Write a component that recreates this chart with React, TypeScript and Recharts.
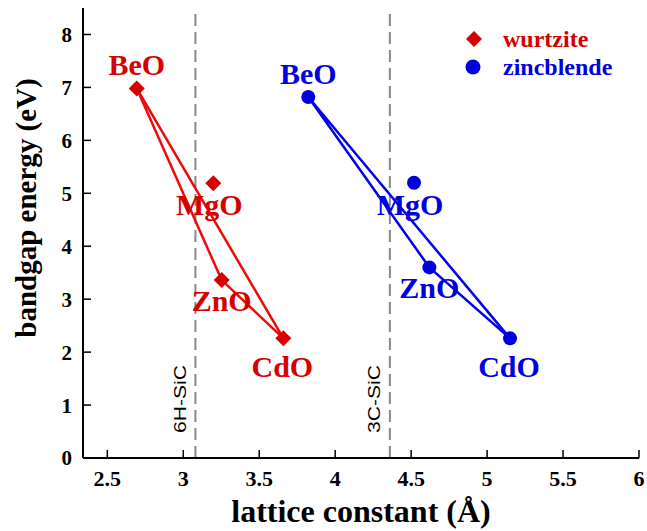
import React from 'react';
import { ScatterChart, Scatter, XAxis, YAxis, ReferenceLine, Legend } from 'recharts';

// ---- data ----
const compounds = ['BeO', 'MgO', 'ZnO', 'CdO'];
const wurtziteA = [2.694, 3.198, 3.253, 3.659];
const wurtziteGap = [6.98, 5.19, 3.36, 2.26];
const zincblendeA = [3.823, 4.519, 4.62, 5.151];
const zincblendeGap = [6.82, 5.2, 3.6, 2.26];
const bowingPath = ['BeO', 'ZnO', 'CdO', 'BeO'];
const xTicks = [2.5, 3, 3.5, 4, 4.5, 5, 5.5, 6];
const yTicks = [0, 1, 2, 3, 4, 5, 6, 7, 8];
const substrateNames = ['6H-SiC', '3C-SiC'];
const substrateA = [3.08, 4.36];
const seriesNames = ['wurtzite', 'zincblende'];

// ---- styles ----
const SERIF = '"Liberation Serif", "Times New Roman", serif';
const SANS = '"Liberation Sans", Arial, sans-serif';
const RED = '#d60000';
const RED_LINE = '#ee0a0a';
const BLUE = '#0000e0';
const BLUE_LINE = '#0000ee';
const LABEL_OFFSET: Record<string, [number, number]> = {
  BeO: [0, -13],
  MgO: [-4, 32],
  ZnO: [0, 31],
  CdO: [-1, 39],
};

const wurtzite = compounds.map((name, i) => ({ name, x: wurtziteA[i], y: wurtziteGap[i] }));
const zincblende = compounds.map((name, i) => ({ name, x: zincblendeA[i], y: zincblendeGap[i] }));
const wurtzitePath = bowingPath.map((n) => wurtzite[compounds.indexOf(n)]);
const zincblendePath = bowingPath.map((n) => zincblende[compounds.indexOf(n)]);

const makeShape = (kind: 'diamond' | 'circle', color: string) => (props: any) => {
  const { cx, cy, payload } = props;
  const [dx, dy] = LABEL_OFFSET[payload.name] || [0, 0];
  return (
    <g>
      {kind === 'diamond' ? (
        <polygon
          points={`${cx},${cy - 8} ${cx + 8},${cy} ${cx},${cy + 8} ${cx - 8},${cy}`}
          fill={color}
        />
      ) : (
        <circle cx={cx} cy={cy} r={7} fill={color} />
      )}
      <text
        x={cx + dx}
        y={cy + dy}
        textAnchor="middle"
        fontFamily={SERIF}
        fontWeight="bold"
        fontSize={30}
        fill={color}
      >
        {payload.name}
      </text>
    </g>
  );
};

const noShape = () => <g />;

const substrateLabel = (name: string) => (props: any) => {
  const vb = props.viewBox || {};
  const x = vb.x - 15;
  const y = vb.y + vb.height - 59;
  return (
    <text
      x={x}
      y={y}
      transform={`rotate(-90, ${x}, ${y})`}
      textAnchor="middle"
      dominantBaseline="central"
      fontFamily={SANS}
      fontSize={17}
      textLength={68}
      lengthAdjust="spacingAndGlyphs"
      fill="#000"
    >
      {name}
    </text>
  );
};

const xLabel = (props: any) => {
  const vb = props.viewBox || {};
  return (
    <text
      x={vb.x + vb.width / 2}
      y={vb.y + 64}
      textAnchor="middle"
      fontFamily={SERIF}
      fontWeight="bold"
      fontSize={32}
      fill="#000"
    >
      lattice constant (Å)
    </text>
  );
};

const yLabel = (props: any) => {
  const vb = props.viewBox || {};
  const x = vb.x + 26;
  const y = vb.y + vb.height / 2 - 25;
  return (
    <text
      x={x}
      y={y}
      transform={`rotate(-90, ${x}, ${y})`}
      textAnchor="middle"
      dominantBaseline="central"
      fontFamily={SERIF}
      fontWeight="bold"
      fontSize={29}
      fill="#000"
    >
      bandgap energy (eV)
    </text>
  );
};

const legendContent = () => (
  <svg width={180} height={64} style={{ display: 'block' }}>
    <polygon points="14,7 22,15 14,23 6,15" fill={RED} />
    <circle cx={13} cy={43} r={7.5} fill={BLUE} />
    <text x={43} y={23} fontFamily={SERIF} fontWeight="bold" fontSize={24} fill={RED}>
      {seriesNames[0]}
    </text>
    <text x={43} y={51} fontFamily={SERIF} fontWeight="bold" fontSize={24} fill={BLUE}>
      {seriesNames[1]}
    </text>
  </svg>
);

const tickStyle = { fill: '#000', fontSize: 22, fontWeight: 'bold', fontFamily: SERIF };
const axisLine = { stroke: '#000', strokeWidth: 2 };
const tickLine = { stroke: '#000', strokeWidth: 1.5 };

export default function App() {
  return (
    <div style={{ position: 'absolute', left: 0, top: 0, background: '#fff' }}>
      <ScatterChart width={647} height={531} margin={{ top: 8, right: 8, bottom: 0, left: 0 }}>
        <XAxis
          type="number"
          dataKey="x"
          domain={[2.34, 6]}
          allowDataOverflow
          ticks={xTicks}
          interval={0}
          height={73}
          tickSize={-8}
          tickMargin={20}
          tick={tickStyle}
          axisLine={axisLine}
          tickLine={tickLine}
          label={{ content: xLabel }}
        />
        <XAxis
          xAxisId="top"
          orientation="top"
          type="number"
          dataKey="x"
          domain={[2.34, 6]}
          allowDataOverflow
          ticks={xTicks}
          interval={0}
          height={0}
          tickSize={-8}
          tick={false}
          axisLine={axisLine}
          tickLine={tickLine}
        />
        <YAxis
          type="number"
          dataKey="y"
          domain={[0, 8.5]}
          allowDataOverflow
          ticks={yTicks}
          interval={0}
          width={83}
          tickSize={-8}
          tickMargin={19}
          tick={{ ...tickStyle, fontSize: 21 }}
          axisLine={axisLine}
          tickLine={tickLine}
          label={{ content: yLabel }}
        />
        <YAxis
          yAxisId="right"
          orientation="right"
          type="number"
          dataKey="y"
          domain={[0, 8.5]}
          allowDataOverflow
          ticks={yTicks}
          interval={0}
          width={0}
          tickSize={-8}
          tick={false}
          axisLine={axisLine}
          tickLine={tickLine}
        />
        {substrateA.map((a, i) => (
          <ReferenceLine
            key={substrateNames[i]}
            x={a}
            stroke="#8a8a8a"
            strokeWidth={2}
            strokeDasharray="12 6"
            label={{ content: substrateLabel(substrateNames[i]) }}
          />
        ))}
        <Scatter
          data={wurtzitePath}
          line={{ stroke: RED_LINE, strokeWidth: 2.5 }}
          shape={noShape}
          legendType="none"
          isAnimationActive={false}
        />
        <Scatter
          data={zincblendePath}
          line={{ stroke: BLUE_LINE, strokeWidth: 2.5 }}
          shape={noShape}
          legendType="none"
          isAnimationActive={false}
        />
        <Scatter
          name={seriesNames[0]}
          data={wurtzite}
          shape={makeShape('diamond', RED)}
          isAnimationActive={false}
        />
        <Scatter
          name={seriesNames[1]}
          data={zincblende}
          shape={makeShape('circle', BLUE)}
          isAnimationActive={false}
        />
        <Legend
          layout="horizontal"
          verticalAlign="middle"
          align="center"
          content={legendContent}
          wrapperStyle={{ left: 460, top: 24, width: 180, height: 64 }}
        />
      </ScatterChart>
    </div>
  );
}
